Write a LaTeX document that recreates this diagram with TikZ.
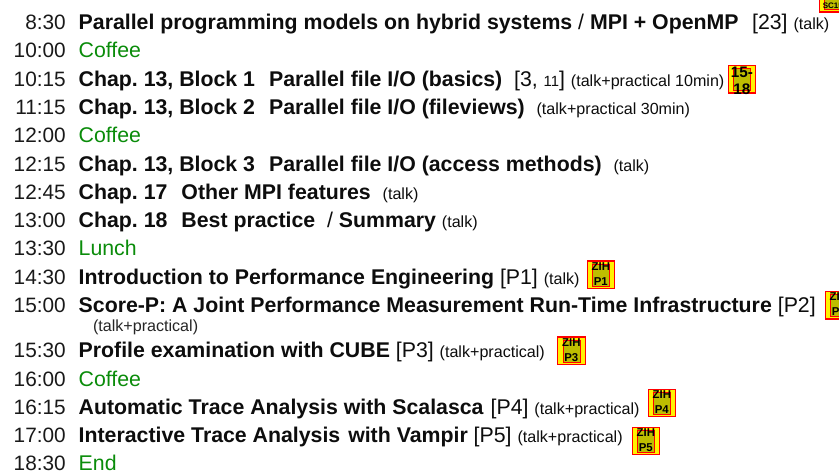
\documentclass[tikz,border=0pt]{standalone}
\usepackage{fontspec}
\setmainfont{Liberation Sans}
\frenchspacing
\definecolor{cofgreen}{RGB}{10,140,10}
\definecolor{olivebox}{RGB}{190,190,0}
\newcommand{\mainsz}{\fontsize{21.3bp}{23bp}\selectfont}
\newcommand{\timesz}{\fontsize{20.8bp}{23bp}\selectfont}
\newcommand{\smsz}{\fontsize{16.1bp}{18bp}\selectfont}
\newcommand{\T}[1]{\textbf{#1}}
\newcommand{\Sm}[1]{{\smsz #1}}
\newcommand{\Gap}{\hspace{14bp}}
\tikzset{
  x=1bp,y=-1bp,
  timelab/.style={anchor=base east,inner sep=0pt,font=\timesz,text=black!90,yshift=-.5bp},
  rowlab/.style={anchor=base west,inner sep=0pt,font=\mainsz,text=black!95,yshift=-.5bp},
  breaklab/.style={rowlab,text=cofgreen},
  subrow/.style={anchor=base west,inner sep=0pt,font=\smsz,text=black!85},
  badgeouter/.style={draw=red,line width=1.1bp,fill=yellow,minimum width=27.5bp,minimum height=27.5bp,inner sep=0pt,anchor=north west},
  badgeinner/.style={draw=red,line width=.5bp,fill=olivebox,minimum width=17bp,minimum height=22bp,inner sep=0pt},
  badgetext/.style={inner sep=0pt,anchor=base,text=black},
  zihtext/.style={badgetext,font=\bfseries\fontsize{11.4bp}{12bp}\selectfont},
  chaptext/.style={badgetext,font=\bfseries\fontsize{15.3bp}{16bp}\selectfont},
  sctext/.style={badgetext,font=\bfseries\fontsize{8bp}{9bp}\selectfont},
}
\newcommand{\badgebox}[3]{%
  \node[badgeouter] (#1) at (#2,#3) {};
  \node[badgeinner] (#1i) at (#1.center) {};
}
\newcommand{\zih}[4]{%
  \badgebox{#1}{#2}{#3}
  \node[zihtext] (#1a) at ([yshift=4.5bp]#1.center) {ZIH};
  \node[zihtext] (#1b) at ([yshift=-10.5bp]#1.center) {#4};
}
\begin{document}
\begin{tikzpicture}
\clip (0,0) rectangle (839,473);
\fill[white] (0,0) rectangle (839,473);
\node[timelab] (t1) at (66,29) {8:30};
\node[rowlab] (r1) at (78.5,29) {\T{Parallel programming models on hybrid systems} / \T{MPI + OpenMP}\hspace{13.5bp}[23] \Sm{(talk)}};
\node[timelab] (t2) at (66,57) {10:00};
\node[breaklab] (r2) at (78.5,57) {Coffee};
\node[timelab] (t3) at (66,86) {10:15};
\node[rowlab] (r3) at (78.5,86) {\T{Chap. 13, Block 1\Gap Parallel file I/O (basics)}\ \ [3, {\fontsize{14.8bp}{16bp}\selectfont 11}] \Sm{(talk+practical 10min)}};
\node[timelab] (t4) at (66,114) {11:15};
\node[rowlab] (r4) at (78.5,114) {\T{Chap. 13, Block 2\Gap Parallel file I/O (fileviews)}\ \ \Sm{(talk+practical 30min)}};
\node[timelab] (t5) at (66,142) {12:00};
\node[breaklab] (r5) at (78.5,142) {Coffee};
\node[timelab] (t6) at (66,171) {12:15};
\node[rowlab] (r6) at (78.5,171) {\T{Chap. 13, Block 3\Gap Parallel file I/O (access methods)}\ \ \Sm{(talk)}};
\node[timelab] (t7) at (66,199) {12:45};
\node[rowlab] (r7) at (78.5,199) {\T{Chap. 17\Gap Other MPI features}\ \ \Sm{(talk)}};
\node[timelab] (t8) at (66,227) {13:00};
\node[rowlab] (r8) at (78.5,227) {\T{Chap. 18\Gap Best practice}\ \ / \T{Summary} \Sm{(talk)}};
\node[timelab] (t9) at (66,255) {13:30};
\node[breaklab] (r9) at (78.5,255) {Lunch};
\node[timelab] (t10) at (66,284) {14:30};
\node[rowlab] (r10) at (78.5,284) {\T{Introduction to Performance Engineering} [P1] \Sm{(talk)}};
\node[timelab] (t11) at (66,312) {15:00};
\node[rowlab] (r11) at (78.5,312) {\T{Score-P: A Joint Performance Measurement Run-Time Infrastructure} [P2]};
\node[subrow] (r11b) at (92.8,332) {(talk+practical)};
\node[timelab] (t12) at (66,357) {15:30};
\node[rowlab] (r12) at (78.5,357) {\T{Profile examination with CUBE} [P3] \Sm{(talk+practical)}};
\node[timelab] (t13) at (66,386) {16:00};
\node[breaklab] (r13) at (78.5,386) {Coffee};
\node[timelab] (t14) at (66,414) {16:15};
\node[rowlab] (r14) at (78.5,414) {\T{Automatic Trace Analysis with Scalasca}\kern1bp{} [P4] \Sm{(talk+practical)}};
\node[timelab] (t15) at (66,442) {17:00};
\node[rowlab] (r15) at (78.5,442) {\T{Interactive Trace Analysis\kern2bp{} with Vampir} [P5] \Sm{(talk+practical)}};
\node[timelab] (t16) at (66,470) {18:30};
\node[breaklab] (r16) at (78.5,470) {End};
\badgebox{bsc}{818.5}{-16}
\node[sctext] (bsca) at ([yshift=-10bp]bsc.center) {SC15};
\badgebox{bio}{727.5}{65}
\node[chaptext] (bioa) at ([yshift=1.5bp]bio.center) {15-};
\node[chaptext] (biob) at ([yshift=-15bp]bio.center) {18};
\zih{bpa}{586.5}{260.5}{P1}
\zih{bpb}{824.5}{291}{P2}
\zih{bpc}{557}{336.5}{P3}
\zih{bpd}{647.5}{388.5}{P4}
\zih{bpe}{631.5}{426.5}{P5}
\end{tikzpicture}
\end{document}
